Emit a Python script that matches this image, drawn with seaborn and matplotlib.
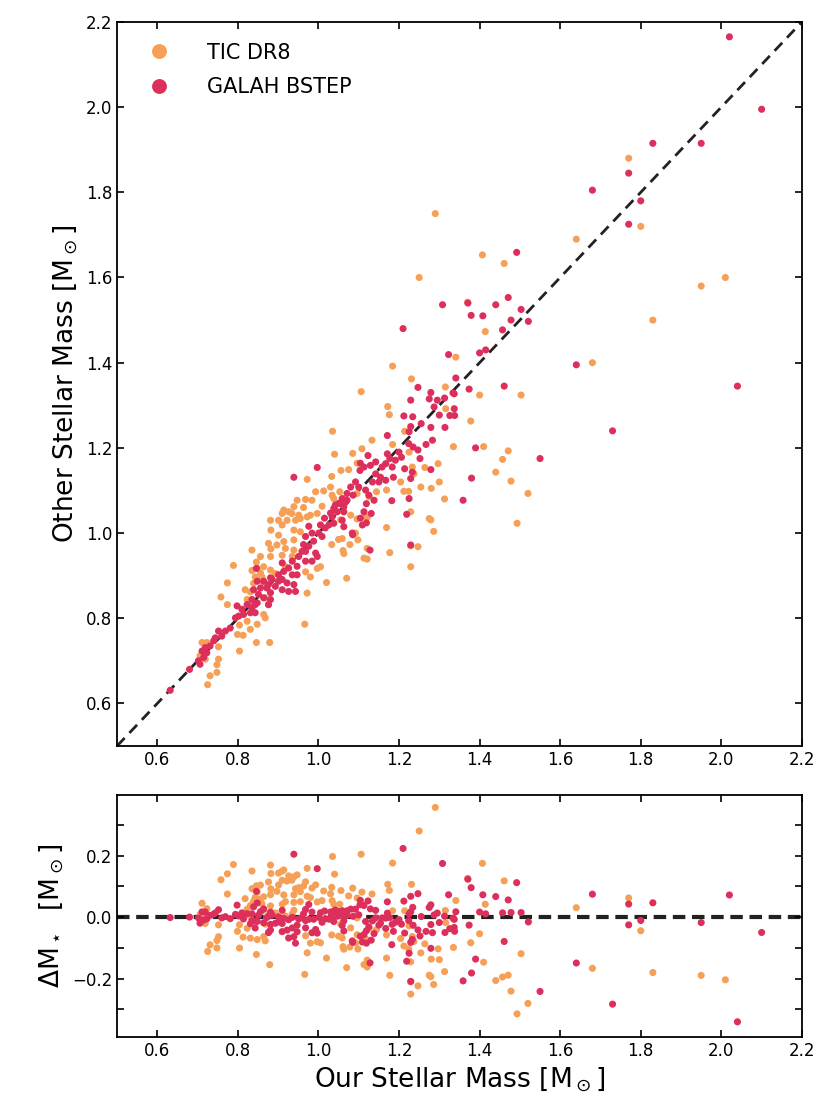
import matplotlib
matplotlib.use("Agg")
import matplotlib.pyplot as plt
import matplotlib.ticker as mticker
import numpy as np
import pandas as pd
import seaborn as sns

# Values (our mass, other mass), in solar masses
tic_ours = [
    1.77, 1.80, 1.83, 1.64, 1.68, 1.95, 2.01, 1.29, 1.25,
    1.407, 1.461, 1.37, 1.414, 1.341, 1.315, 1.40, 1.503, 1.316, 1.378,
    1.335, 1.41, 1.471, 1.457, 1.297, 1.44, 1.478, 1.30, 1.52, 1.313,
    1.28, 1.493, 1.286, 1.279,
    1.184, 1.106, 1.231, 1.172, 1.176, 1.035, 1.133, 1.04, 1.108, 1.085,
    1.184, 1.214, 1.096, 1.056, 1.075, 1.033, 1.225, 1.264, 1.233, 1.237,
    1.204, 1.254, 1.212, 1.224, 1.169, 1.144, 1.096, 1.053, 1.038, 1.126,
    1.229, 1.275, 1.169, 1.121, 1.096, 1.08, 1.055, 1.092, 1.05, 1.059,
    1.033, 1.078, 1.098, 1.061, 1.121, 1.177, 1.229, 1.247, 1.229, 1.07,
    0.972, 0.993, 1.013, 1.03, 1.034, 0.947, 0.968, 0.984, 0.939, 0.914,
    0.926, 0.91, 0.934, 0.951, 0.963, 0.98, 0.997, 1.009, 0.881, 0.901,
    0.922, 0.943, 0.955, 0.972, 0.882, 0.91, 0.901, 0.939, 0.955, 1.117,
    0.914, 0.939, 0.876, 0.897, 0.918, 0.939, 0.935, 1.121, 1.063, 1.113,
    0.835, 0.856, 0.881, 0.864, 0.848, 0.881, 0.893, 0.91, 0.918, 0.968,
    0.98, 0.997, 1.005, 1.02, 0.972, 0.843, 0.86, 0.839,
    0.882, 0.789, 0.846, 0.835, 0.856, 0.774, 0.818, 0.831, 0.758, 0.864,
    0.868, 0.876, 0.774, 0.823, 0.831, 0.864, 0.868, 0.804, 0.823, 0.848,
    0.831, 0.799, 0.813, 0.846, 0.879, 0.711, 0.723, 0.752, 0.804, 0.706,
    0.719, 0.752, 0.748, 0.719, 0.748, 0.731, 0.725, 0.966,
]
tic_other = [
    1.88, 1.72, 1.50, 1.69, 1.40, 1.58, 1.60, 1.75, 1.60,
    1.653, 1.633, 1.542, 1.473, 1.413, 1.343, 1.324, 1.324, 1.292, 1.263,
    1.203, 1.203, 1.193, 1.173, 1.163, 1.143, 1.122, 1.12, 1.093, 1.08,
    1.105, 1.023, 1.004, 1.031,
    1.392, 1.332, 1.362, 1.297, 1.278, 1.239, 1.218, 1.185, 1.198, 1.187,
    1.208, 1.239, 1.164, 1.147, 1.149, 1.133, 1.19, 1.154, 1.155, 1.139,
    1.12, 1.108, 1.098, 1.098, 1.101, 1.097, 1.093, 1.097, 1.081, 1.085,
    1.05, 1.034, 1.013, 1.037, 1.033, 1.042, 1.031, 1.0, 0.985, 0.987,
    0.973, 0.973, 0.984, 0.959, 0.939, 0.954, 0.97, 0.968, 0.921, 0.894,
    1.126, 1.097, 1.099, 1.108, 1.089, 1.077, 1.079, 1.077, 1.062, 1.054,
    1.05, 1.046, 1.046, 1.042, 1.06, 1.042, 1.046, 1.063, 1.03, 1.03,
    1.03, 1.03, 1.034, 1.038, 1.007, 1.019, 0.995, 1.007, 1.003, 1.038,
    0.98, 0.984, 0.976, 0.972, 0.964, 0.96, 0.945, 0.964, 0.952, 0.941,
    0.96, 0.945, 0.945, 0.921, 0.917, 0.913, 0.905, 0.948, 0.921, 0.909,
    0.897, 0.917, 0.921, 0.884, 0.859, 0.897, 0.897, 0.882,
    0.963, 0.924, 0.932, 0.912, 0.906, 0.883, 0.867, 0.862, 0.85, 0.883,
    0.848, 0.832, 0.832, 0.844, 0.832, 0.809, 0.801, 0.784, 0.793, 0.786,
    0.774, 0.762, 0.76, 0.743, 0.743, 0.743, 0.743, 0.733, 0.723, 0.712,
    0.719, 0.704, 0.691, 0.704, 0.673, 0.665, 0.644, 0.786,
]

galah_ours = [
    2.02, 2.10, 1.95, 1.83, 1.77, 1.80, 1.77, 1.68, 1.64, 1.73, 2.04, 1.55,
    1.492, 1.308, 1.371, 1.44, 1.471, 1.379, 1.408, 1.503, 1.478, 1.521,
    1.457, 1.40, 1.415, 1.323, 1.341, 1.374, 1.461, 1.334, 1.313, 1.295,
    1.279, 1.287, 1.337, 1.30, 1.326, 1.338, 1.279, 1.314, 1.283, 1.39,
    1.279, 1.38, 1.359,
    1.247, 1.275, 1.229, 1.337, 1.212, 1.234, 1.255, 1.229, 1.225, 1.171,
    1.267, 1.224, 1.235, 1.20, 1.206, 1.171, 1.177, 1.167, 1.158, 1.191,
    1.183, 1.252, 1.247, 1.123, 1.129, 1.113, 1.142, 1.104, 1.103, 1.142,
    1.154, 1.167, 1.15, 1.134, 1.186, 1.214, 1.233, 1.229, 1.225, 1.182,
    1.138, 1.125, 1.119, 1.113, 1.131, 1.092, 1.10, 1.08, 1.071, 1.086,
    1.067, 1.055, 1.042, 1.063, 1.047, 1.034, 1.038, 1.059, 1.063, 1.109,
    1.119, 1.085, 1.219, 1.229, 1.128, 1.21,
    0.997, 0.939, 1.117, 1.104, 1.071, 1.059, 1.051, 1.063, 1.038, 1.03,
    1.015, 1.005, 1.026, 1.017, 1.001, 1.009, 0.984, 0.976, 0.988, 0.968,
    0.963, 0.976, 0.959, 0.951, 0.935, 0.968, 0.984, 0.997, 0.947, 0.926,
    0.914, 0.901, 0.91, 0.922, 0.935, 0.881, 0.864, 0.848, 0.856, 0.872,
    0.893, 0.839, 0.851, 0.835, 0.864, 0.881, 0.843, 0.926, 0.876, 0.943,
    0.993, 1.084, 0.968,
    0.846, 0.91, 0.947, 0.901, 0.885, 0.876, 0.881, 0.848, 0.835, 0.823,
    0.81, 0.798, 0.802, 0.814, 0.794, 0.831, 0.843, 0.781, 0.769, 0.752,
    0.76, 0.744, 0.74, 0.731, 0.719, 0.723, 0.711, 0.715, 0.702, 0.706,
    0.68, 0.632, 0.91, 0.939,
]
galah_other = [
    2.165, 1.995, 1.915, 1.915, 1.845, 1.78, 1.725, 1.805, 1.395, 1.24, 1.345, 1.175,
    1.659, 1.536, 1.540, 1.536, 1.553, 1.511, 1.51, 1.525, 1.50, 1.497,
    1.477, 1.423, 1.43, 1.419, 1.364, 1.338, 1.345, 1.329, 1.317, 1.312,
    1.33, 1.296, 1.292, 1.277, 1.276, 1.276, 1.248, 1.248, 1.218, 1.20,
    1.149, 1.129, 1.077,
    1.342, 1.315, 1.312, 1.327, 1.275, 1.273, 1.257, 1.25, 1.238, 1.229,
    1.208, 1.21, 1.202, 1.19, 1.178, 1.186, 1.175, 1.163, 1.155, 1.171,
    1.155, 1.175, 1.195, 1.182, 1.159, 1.155, 1.167, 1.164, 1.147, 1.139,
    1.131, 1.124, 1.12, 1.12, 1.131, 1.151, 1.143, 1.128, 1.081, 1.076,
    1.077, 1.089, 1.069, 1.05, 1.046, 1.12, 1.108, 1.108, 1.093, 1.089,
    1.073, 1.069, 1.066, 1.05, 1.05, 1.038, 1.023, 1.03, 1.015, 1.019,
    1.024, 0.996, 1.044, 0.972, 0.96, 1.48,
    1.154, 1.131, 1.101, 1.035, 1.077, 1.081, 1.07, 1.062, 1.058, 1.047,
    1.035, 1.019, 1.019, 1.012, 1.0, 0.992, 1.0, 1.016, 0.981, 0.992,
    0.973, 0.969, 0.957, 0.945, 0.934, 0.934, 0.934, 0.945, 0.922, 0.918,
    0.91, 0.902, 0.891, 0.883, 0.902, 0.895, 0.887, 0.887, 0.871, 0.871,
    0.875, 0.867, 0.856, 0.844, 0.848, 0.844, 0.832, 0.863, 0.832, 0.863,
    0.953, 1.0, 0.957,
    0.917, 0.93, 0.902, 0.887, 0.891, 0.879, 0.86, 0.836, 0.825, 0.832,
    0.821, 0.829, 0.805, 0.809, 0.801, 0.813, 0.813, 0.777, 0.77, 0.77,
    0.758, 0.754, 0.747, 0.735, 0.731, 0.719, 0.723, 0.708, 0.7, 0.692,
    0.68, 0.631, 0.867, 0.879,
]

labels = ["TIC DR8", "GALAH BSTEP"]
colors = ["#F6A057", "#DC2F5C"]

df = pd.concat([
    pd.DataFrame({"ours": tic_ours, "other": tic_other, "cat": labels[0]}),
    pd.DataFrame({"ours": galah_ours, "other": galah_other, "cat": labels[1]}),
], ignore_index=True)
# fractional difference shown in the lower panel
df["delta"] = (df["other"] - df["ours"]) / df["ours"]

sns.set_style("ticks")
plt.rcParams["font.family"] = ["DejaVu Sans"]
plt.rcParams.update({
    "text.color": "black",
    "axes.labelcolor": "black",
    "axes.edgecolor": "black",
    "xtick.color": "black",
    "ytick.color": "black",
    "xtick.direction": "in",
    "ytick.direction": "in",
    "xtick.top": True,
    "ytick.right": True,
    "xtick.major.size": 5,
    "ytick.major.size": 5,
    "ytick.minor.size": 5,
    "xtick.major.width": 1.2,
    "ytick.major.width": 1.2,
    "ytick.minor.width": 1.2,
    "axes.linewidth": 1.3,
})

fig = plt.figure(figsize=(8.31, 11.13), dpi=100)
ax1 = fig.add_axes([0.1408, 0.3297, 0.8242, 0.6506])
ax2 = fig.add_axes([0.1408, 0.0683, 0.8242, 0.2174])

pal = dict(zip(labels, colors))

# Top panel
sns.scatterplot(data=df, x="ours", y="other", hue="cat", hue_order=labels,
                palette=pal, s=26, linewidth=0, ax=ax1)
ax1.plot([0.5, 2.2], [0.5, 2.2], ls=(0, (4, 2.5)), color="#222222", lw=2, zorder=0)
ax1.set_xlim(0.5, 2.2)
ax1.set_ylim(0.5, 2.2)
ax1.xaxis.set_major_locator(mticker.MultipleLocator(0.2))
ax1.yaxis.set_major_locator(mticker.MultipleLocator(0.2))
ax1.set_xlabel("")
ax1.set_ylabel(r"Other Stellar Mass [M$_\odot$]", fontsize=19)
ax1.tick_params(labelsize=12)
ax1.legend(loc="upper left", frameon=False, fontsize=15, markerscale=2.1,
           handletextpad=1.3, labelspacing=0.7, borderaxespad=0.6)

# Bottom panel
sns.scatterplot(data=df, x="ours", y="delta", hue="cat", hue_order=labels,
                palette=pal, s=26, linewidth=0, ax=ax2, legend=False)
ax2.axhline(0, ls=(0, (3, 1.6)), color="#222222", lw=3, zorder=0)
ax2.set_xlim(0.5, 2.2)
ax2.set_ylim(-0.39, 0.397)
ax2.xaxis.set_major_locator(mticker.MultipleLocator(0.2))
ax2.yaxis.set_major_locator(mticker.MultipleLocator(0.2))
ax2.yaxis.set_minor_locator(mticker.MultipleLocator(0.1))
ax2.tick_params(which="minor", direction="in", left=True, right=True)
ax2.set_xlabel(r"Our Stellar Mass [M$_\odot$]", fontsize=19)
ax2.set_ylabel(r"$\Delta$M$_\star$  [M$_\odot$]", fontsize=19)
ax2.tick_params(labelsize=12)

fig.savefig("out.png", dpi=100)
